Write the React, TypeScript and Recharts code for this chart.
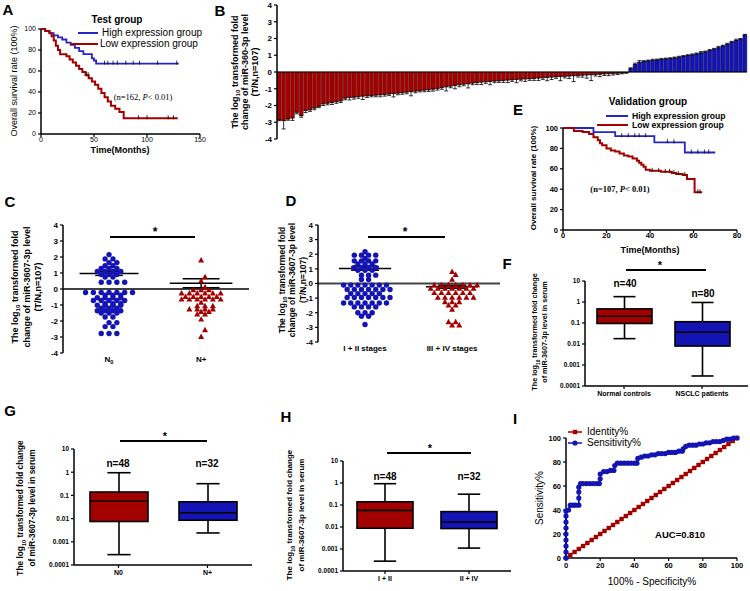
import React from 'react';
import {
  ComposedChart, LineChart, Line, BarChart, Bar, Cell, ErrorBar, ScatterChart, Scatter,
  XAxis, YAxis, ReferenceLine,
} from 'recharts';

const SANS = '"Liberation Sans", Arial, sans-serif';
const SERIF = '"Liberation Serif", "Times New Roman", serif';
const RED = '#a30000';
const BLUE = '#1414b4';
const KM_BLUE = '#2626c4';

// ---- A: test group survival (months / %)
const testHighTime = [0, 4, 8, 12, 16, 20, 24, 28, 32, 36, 40, 48, 50, 52, 130];
const testHighSurv = [100, 98, 96, 94, 92, 90, 87, 85, 82, 79, 76, 72, 70, 67, 67];
const testHighCensor = [60, 63, 68, 72, 80, 87, 93, 110, 128];
const testLowTime = [0, 4, 8, 10, 12, 14, 16, 18, 24, 27, 30, 33, 36, 39, 42, 45, 48, 51, 54, 57, 60, 63, 66, 70, 74, 78, 129];
const testLowSurv = [100, 98, 96, 93, 89, 84, 80, 76, 74, 71, 68, 65, 62, 59, 56, 53, 50, 47, 43, 39, 35, 31, 27, 24, 21, 15, 15];
const testLowCensor = [43, 44.5, 92, 100, 120, 125];

// ---- E: validation group survival
const valHighTime = [0, 14, 24, 42, 56, 70];
const valHighSurv = [100, 96, 92, 86, 76, 76];
const valHighCensor = [27, 30, 33, 35, 38, 48, 51, 59, 62, 65, 67];
const valLowTime = [0, 5, 9, 12, 14, 16, 17, 18, 20, 22, 24, 26, 28, 30, 32, 34, 35, 36, 37, 38, 40, 45, 50, 52, 55, 57, 60.5, 64];
const valLowSurv = [100, 97, 96, 94, 91, 88, 85, 83, 80, 78, 77, 75, 73, 72, 70, 68, 66, 64, 62, 59, 58, 57, 56, 55, 54, 50, 37, 37];
const valLowCensor = [41, 44, 47, 49, 51, 53, 56, 62, 63];

// ---- B: log10 fold change per patient (T/N), sorted
const waterfallLow = [
  -2.86, -2.9, -2.8, -2.74, -2.4, -2.6, -2.3, -2.25, -2.15, -2.05,
  -1.9, -1.86, -1.82, -1.77, -1.72, -1.56, -1.52, -1.5, -1.47, -1.44,
  -1.42, -1.4, -1.38, -1.36, -1.34, -1.31, -1.29, -1.26, -1.23, -1.2,
  -1.17, -1.14, -1.11, -1.08, -1.06, -1.02, -0.98, -0.93, -0.88, -0.84,
  -0.8, -0.76, -0.72, -0.7, -0.66, -0.63, -0.6, -0.58, -0.56, -0.54,
  -0.52, -0.5, -0.48, -0.46, -0.44, -0.43, -0.41, -0.4, -0.38, -0.36,
  -0.34, -0.32, -0.3, -0.28, -0.27, -0.25, -0.24, -0.22, -0.2, -0.19,
  -0.17, -0.16, -0.14, -0.13, -0.11, -0.1, -0.08, -0.07, -0.05, -0.03,
];
const waterfallHigh = [
  0.2, 0.45, 0.58, 0.62, 0.66, 0.7, 0.72, 0.75, 0.78, 0.8, 0.84, 0.88, 0.93, 0.98,
  1.02, 1.08, 1.14, 1.2, 1.28, 1.36, 1.45, 1.55, 1.65, 1.78, 1.88, 1.95, 2.2,
];
const waterfallErr = [
  0.05, 0.5, 0.08, 0.15, 0.1, 0.1, 0.12, 0.1, 0.1, 0.08,
  0.1, 0.1, 0.12, 0.1, 0.1, 0.1, 0.15, 0.12, 0.1, 0.2,
  0.1, 0.08, 0.1, 0.12, 0.1, 0.1, 0.2, 0.1, 0.1, 0.1,
  0.25, 0.1, 0.08, 0.1, 0.1, 0.12, 0.1, 0.1, 0.25, 0.1,
  0.2, 0.12, 0.1, 0.25, 0.1, 0.12, 0.15, 0.1, 0.2, 0.1,
  0.1, 0.12, 0.15, 0.1, 0.2, 0.1, 0.15, 0.1, 0.12, 0.15,
  0.1, 0.2, 0.15, 0.1, 0.25, 0.1, 0.15, 0.35, 0.1, 0.12,
  0.2, 0.35, 0.1, 0.15, 0.1, 0.12, 0.1, 0.08, 0.06, 0.05,
  0.05, 0.08, 0.1, 0.06, 0.05, 0.06, 0.05, 0.06, 0.05, 0.05,
  0.05, 0.06, 0.05, 0.05, 0.06, 0.05, 0.08, 0.05, 0.06, 0.05,
  0.08, 0.05, 0.06, 0.05, 0.08, 0.05, 0.05,
];

// ---- C: N0 vs N+ (each dot one patient)
const nodeNegValues = [
  2.15, 1.88, 1.88, 1.65, 1.65, 1.45, 1.45, 1.28, 1.28, 1.28, 1.1, 1.1, 1.1, 1.1,
  0.9, 0.9, 0.9, 0.75, 0.75, 0.42, 0.42, 0.42, 0.42,
  -0.22, -0.22, -0.22, -0.22, -0.22, -0.22, -0.22, -0.38, -0.38, -0.38,
  -0.55, -0.55, -0.55, -0.55, -0.72, -0.72, -0.72, -0.72, -0.72, -0.92, -0.92, -0.92,
  -1.02, -1.02, -1.02, -1.02, -1.2, -1.2, -1.2, -1.36, -1.36, -1.36, -1.36,
  -1.5, -1.5, -1.5, -1.75, -1.75, -2.1, -2.1, -2.35, -2.35, -2.78, -2.78, -2.78,
];
const nodePosValues = [
  1.8, 0.75, 0.5, 0.12, -0.06, -0.06, -0.06,
  -0.27, -0.27, -0.27, -0.27, -0.27, -0.27, -0.48, -0.48, -0.48, -0.48, -0.48,
  -0.65, -0.65, -0.65, -0.65, -0.65, -0.65, -0.85, -1.06, -1.06, -1.06,
  -1.27, -1.27, -1.27, -1.27, -1.42, -1.42, -1.58, -1.58, -1.9, -2.56, -2.98,
];
const nodeLabels = ['N0', 'N+'];
const nodeMeans = [0.97, 0.36];
const nodeSems = [0.12, 0.28];

// ---- D: stage I+II vs III+IV
const earlyValues = [
  2.17, 1.94, 1.94, 1.94, 1.94, 1.71, 1.55, 1.55, 1.55, 1.55, 1.33, 1.33, 1.33,
  1.1, 1.1, 1.1, 1.1, 0.9, 0.9, 0.9, 0.57, 0.57, 0.57, 0.27, 0.27,
  -0.11, -0.11, -0.11, -0.11, -0.11, -0.11, -0.11, -0.41, -0.41, -0.41, -0.41, -0.41, -0.41, -0.41,
  -0.69, -0.69, -0.69, -0.69, -0.69, -0.96, -0.96, -0.96, -0.96, -0.96, -0.96, -0.96,
  -1.33, -1.33, -1.33, -1.33, -1.33, -1.33, -1.33, -1.6, -1.6, -1.6, -1.6,
  -2.0, -2.0, -2.0, -2.24, -2.24, -2.8,
];
const lateValues = [
  0.8, 0.6, 0.27, -0.1, -0.1, -0.1, -0.1, -0.1, -0.1, -0.1,
  -0.34, -0.34, -0.34, -0.34, -0.34, -0.34, -0.34, -0.64, -0.64, -0.64, -0.64, -0.64, -0.64,
  -0.96, -0.96, -0.96, -0.96, -0.96, -0.96, -1.26, -1.26, -1.26, -1.49, -1.49, -1.78,
  -2.63, -2.63, -2.85, -2.85,
];
const stageLabels = ['I + II stages', 'III + IV stages'];
const stageMeans = [1.03, -0.22];
const stageSems = [0.12, 0.1];

// ---- F/G/H: serum levels (box: min, q1, median, q3, max)
const serumNames = ['Normal controls', 'NSCLC patients'];
const serumMin = [0.018, 0.0003];
const serumQ1 = [0.095, 0.008];
const serumMed = [0.21, 0.036];
const serumQ3 = [0.47, 0.115];
const serumMax = [1.8, 0.95];
const serumN = ['n=40', 'n=80'];

const nodeSerumNames = ['N0', 'N+'];
const nodeSerumMin = [0.00028, 0.0024];
const nodeSerumQ1 = [0.0075, 0.0085];
const nodeSerumMed = [0.057, 0.018];
const nodeSerumQ3 = [0.14, 0.053];
const nodeSerumMax = [0.95, 0.32];

const stageSerumNames = ['I + II', 'II + IV'];
const stageSerumMin = [0.00028, 0.0011];
const stageSerumQ1 = [0.0088, 0.0085];
const stageSerumMed = [0.057, 0.017];
const stageSerumQ3 = [0.14, 0.05];
const stageSerumMax = [0.93, 0.31];
const subgroupN = ['n=48', 'n=32'];

const logTicks = [0.0001, 0.001, 0.01, 0.1, 1, 10];

// ---- I: ROC
const rocFpr = [
  0, 0, 0, 0, 0, 0, 0, 0, 0,
  1.5, 2.5, 4, 5.5, 7.5, 7.5, 7.5, 7.5,
  8.5, 10, 12, 14, 16, 18, 19.5, 20, 20,
  22, 24, 26, 28, 28.5,
  30, 32, 34, 36, 38, 40, 41.5, 42,
  44, 46, 48, 50, 52, 54, 56, 58, 60, 62, 64, 66, 68, 68.5,
  70, 72, 74, 76, 78, 80, 82, 84, 86, 88, 90, 92, 94, 96, 98, 100,
];
const rocTpr = [
  0, 5, 10, 15, 20, 25, 30, 35, 39,
  40, 44, 44, 44, 44, 50, 55, 59,
  62, 62, 62, 62, 62, 62, 62, 66, 70,
  72, 72, 73, 73, 77,
  79, 79, 79, 79, 79, 79, 79, 83,
  84, 85, 85, 86, 86, 87, 87, 87, 88, 88, 88, 89, 89, 91,
  93, 94, 94, 94, 95, 95, 96, 96, 97, 97, 97, 98, 99, 99, 100, 100,
];
const identityPct = [
  0, 2.5, 5, 7.5, 10, 12.5, 15, 17.5, 20, 22.5, 25, 27.5, 30, 32.5, 35, 37.5, 40, 42.5, 45, 47.5,
  50, 52.5, 55, 57.5, 60, 62.5, 65, 67.5, 70, 72.5, 75, 77.5, 80, 82.5, 85, 87.5, 90, 92.5, 95, 97.5, 100,
];

// ---------- helpers
const Txt: React.FC<{
  x: number; y: number; size?: number; bold?: boolean; rot?: boolean; font?: string;
  start?: boolean; children: React.ReactNode;
}> = ({ x, y, size = 9, bold = true, rot = false, font = SANS, start = false, children }) => (
  <div
    style={{
      position: 'absolute', left: x, top: y,
      transform: `translate(${start ? '0' : '-50%'}, -50%)${rot ? ' rotate(-90deg)' : ''}`,
      fontSize: size, fontWeight: bold ? 700 : 400, fontFamily: font,
      whiteSpace: 'nowrap', lineHeight: 1, color: '#000',
    }}
  >
    {children}
  </div>
);

const Sub = ({ children }: { children: React.ReactNode }) => (
  <sub style={{ fontSize: '68%', lineHeight: 0 }}>{children}</sub>
);

const Seg = ({ x, y, w, color = '#000', h = 1.5 }: { x: number; y: number; w: number; color?: string; h?: number }) => (
  <div style={{ position: 'absolute', left: x, top: y - h / 2, width: w, height: h, background: color }} />
);

const axisLine = { stroke: '#000', strokeWidth: 1.5 };
const tickLine = { stroke: '#000', strokeWidth: 1.2 };
const tickStyle = (size: number, bold = true) => ({
  fill: '#000', fontSize: size, fontFamily: SANS, fontWeight: bold ? 700 : 400,
});

type KMGroup = { t: number[]; s: number[]; censor: number[]; color: string; w: number };

function kmPoints(g: KMGroup) {
  const pts = g.t.map((t, i) => ({ t, s: g.s[i], c: false }));
  g.censor.forEach((ct) => {
    let s = g.s[0];
    g.t.forEach((t, i) => { if (t <= ct) s = g.s[i]; });
    pts.push({ t: ct, s, c: true });
  });
  return pts.sort((a, b) => a.t - b.t);
}

const censorDot = (p: any) =>
  p.payload && p.payload.c ? (
    <line key={`c${p.index}`} x1={p.cx} x2={p.cx} y1={p.cy - 3} y2={p.cy + 1} stroke="#000" strokeWidth={0.8} />
  ) : (
    <g key={`n${p.index}`} />
  );

function KMChart(props: {
  left: number; top: number; width: number; height: number; margin: any; yWidth: number;
  xDomain: [number, number]; xTicks: number[]; groups: KMGroup[]; tickSize: number; bold: boolean;
}) {
  const { left, top, width, height, margin, yWidth, xDomain, xTicks, groups, tickSize, bold } = props;
  return (
    <div style={{ position: 'absolute', left, top }}>
      <ComposedChart width={width} height={height} margin={margin}>
        <XAxis type="number" dataKey="t" domain={xDomain} ticks={xTicks} height={14}
          axisLine={axisLine} tickLine={tickLine} tickSize={3} tickMargin={0} tick={tickStyle(tickSize, bold)} />
        <YAxis type="number" domain={[0, 100]} ticks={[0, 20, 40, 60, 80, 100]} width={yWidth}
          axisLine={axisLine} tickLine={tickLine} tickSize={3} tick={tickStyle(tickSize, bold)} />
        {groups.map((g, gi) => (
          <Line key={gi} data={kmPoints(g)} dataKey="s" type="stepAfter" stroke={g.color}
            strokeWidth={g.w} dot={censorDot} activeDot={false} isAnimationActive={false} />
        ))}
      </ComposedChart>
    </div>
  );
}

// lay the dots of each value row side by side; rows interleave by half a step
function swarm(values: number[], center: number, step: number) {
  const rows = new Map<number, number>();
  values.forEach((v) => rows.set(v, (rows.get(v) || 0) + 1));
  const keys = [...rows.keys()].sort((a, b) => b - a);
  const out: { x: number; y: number }[] = [];
  let prevParity = -1;
  let prevShift = 0;
  keys.forEach((v) => {
    const n = rows.get(v) as number;
    const parity = n % 2;
    const shift = parity === prevParity && prevShift === 0 ? step / 2 : 0;
    for (let k = 0; k < n; k++) out.push({ x: center + (k - (n - 1) / 2) * step + shift, y: v });
    prevParity = parity;
    prevShift = shift;
  });
  return out;
}

const circleShape = (color: string) => (p: any) => <circle cx={p.cx} cy={p.cy} r={2.7} fill={color} />;
const triShape = (color: string) => (p: any) => (
  <polygon points={`${p.cx},${p.cy - 3.2} ${p.cx + 3},${p.cy + 2.2} ${p.cx - 3},${p.cy + 2.2}`} fill={color} />
);

const catTick = (labels: string[], sub: boolean, size: number) => (p: any) => {
  const lab = labels[Math.round(p.payload.value) - 1] ?? '';
  const m = sub ? /^(N)(\d)$/.exec(lab) : null;
  return (
    <text x={p.x} y={p.y} dy="0.71em" textAnchor="middle" fontSize={size} fontWeight="bold" fontFamily={SANS} fill="#000">
      {m ? (<>{m[1]}<tspan fontSize={size * 0.7} dy={2}>{m[2]}</tspan></>) : lab}
    </text>
  );
};

function DotPlot(props: {
  left: number; top: number; width: number; height: number; yWidth: number; xDomain: [number, number];
  labels: string[]; sub: boolean; a: number[]; b: number[]; step: number;
  means: number[]; sems: number[]; meanHalf: number[]; capHalf: number[]; zero: string; zeroW: number;
}) {
  const p = props;
  const pa = swarm(p.a, 1, p.step);
  const pb = swarm(p.b, 2, p.step);
  const stat = (i: number) => {
    const cx = i + 1, m = p.means[i], s = p.sems[i];
    const line = { stroke: '#000', strokeWidth: 1.5, ifOverflow: 'visible' as const };
    return [
      <ReferenceLine key={`m${i}`} segment={[{ x: cx - p.meanHalf[i], y: m }, { x: cx + p.meanHalf[i], y: m }]} {...line} />,
      <ReferenceLine key={`v${i}`} segment={[{ x: cx, y: m - s }, { x: cx, y: m + s }]} {...line} />,
      <ReferenceLine key={`t${i}`} segment={[{ x: cx - p.capHalf[i], y: m + s }, { x: cx + p.capHalf[i], y: m + s }]} {...line} />,
      <ReferenceLine key={`b${i}`} segment={[{ x: cx - p.capHalf[i], y: m - s }, { x: cx + p.capHalf[i], y: m - s }]} {...line} />,
    ];
  };
  return (
    <div style={{ position: 'absolute', left: p.left, top: p.top }}>
      <ScatterChart width={p.width} height={p.height} margin={{ top: 10, right: 0, bottom: 3, left: 0 }}>
        <XAxis type="number" dataKey="x" domain={p.xDomain} ticks={[1, 2]} height={12}
          axisLine={false} tickLine={false} tickSize={1} tick={catTick(p.labels, p.sub, 8)} />
        <YAxis type="number" dataKey="y" domain={[-4, 4]} ticks={[-4, -3, -2, -1, 0, 1, 2, 3, 4]} width={p.yWidth}
          axisLine={axisLine} tickLine={tickLine} tickSize={3} tick={tickStyle(8)} />
        <ReferenceLine y={0} stroke={p.zero} strokeWidth={p.zeroW} />
        <Scatter data={pa} shape={circleShape(BLUE)} isAnimationActive={false} />
        <Scatter data={pb} shape={triShape(RED)} isAnimationActive={false} />
        {stat(0)}
        {stat(1)}
      </ScatterChart>
    </div>
  );
}

const makeBoxShape = (colors: string[]) => (props: any) => {
  const { x, y, width, height, payload, index } = props;
  const top = Math.min(y, y + height);
  const bot = Math.max(y, y + height);
  const lMax = Math.log10(payload.max);
  const lMin = Math.log10(payload.min);
  const py = (v: number) => top + ((lMax - Math.log10(v)) / (lMax - lMin)) * (bot - top);
  const cx = x + width / 2;
  const cap = width * 0.2;
  const st = { stroke: '#000', strokeWidth: 1.6 };
  return (
    <g>
      <line x1={cx} x2={cx} y1={top} y2={bot} {...st} />
      <line x1={cx - cap} x2={cx + cap} y1={top} y2={top} {...st} />
      <line x1={cx - cap} x2={cx + cap} y1={bot} y2={bot} {...st} />
      <rect x={x} y={py(payload.q3)} width={width} height={py(payload.q1) - py(payload.q3)} fill={colors[index]} {...st} />
      <line x1={x} x2={x + width} y1={py(payload.med)} y2={py(payload.med)} {...st} />
    </g>
  );
};

function BoxPlot(props: {
  left: number; top: number; width: number; height: number; names: string[];
  mins: number[]; q1s: number[]; meds: number[]; q3s: number[]; maxs: number[];
  padRight: number; barSize: number;
}) {
  const p = props;
  const data = p.names.map((name, i) => ({ name, min: p.mins[i], q1: p.q1s[i], med: p.meds[i], q3: p.q3s[i], max: p.maxs[i] }));
  return (
    <div style={{ position: 'absolute', left: p.left, top: p.top }}>
      <BarChart width={p.width} height={p.height} data={data} margin={{ top: 10, right: 2, bottom: 2, left: 0 }}>
        <XAxis dataKey="name" height={16} padding={{ left: 0, right: p.padRight }}
          axisLine={axisLine} tickLine={tickLine} tickSize={3} tick={tickStyle(7)} interval={0} />
        <YAxis scale="log" domain={[0.0001, 10]} ticks={logTicks} allowDataOverflow width={40}
          tickFormatter={(v: number) => String(v)}
          axisLine={axisLine} tickLine={tickLine} tickSize={3} tick={tickStyle(6.5)} />
        <Bar dataKey={(d: any) => [d.min, d.max]} barSize={p.barSize} shape={makeBoxShape([RED, BLUE])}
          isAnimationActive={false} />
      </BarChart>
    </div>
  );
}

const waterfallData = [...waterfallLow, ...waterfallHigh].map((v, i) => ({
  i,
  v,
  err: v < 0 ? [waterfallErr[i], 0] : [0, waterfallErr[i]],
}));

const rocData = rocFpr.map((x, i) => ({ x, y: rocTpr[i] }));
const identityData = identityPct.map((x) => ({ x, y: x }));

export default function App() {
  return (
    <div style={{ position: 'absolute', left: 0, top: 0, width: 750, height: 591, background: '#fff', overflow: 'hidden', fontFamily: SANS }}>
      {/* ---------------- A */}
      <Txt x={8} y={9} size={15}>A</Txt>
      <KMChart left={0} top={0} width={210} height={160} margin={{ top: 29, right: 10, bottom: 12, left: 0 }} yWidth={41}
        xDomain={[0, 150]} xTicks={[0, 50, 100, 150]} tickSize={7} bold={false}
        groups={[
          { t: testHighTime, s: testHighSurv, censor: testHighCensor, color: KM_BLUE, w: 1.8 },
          { t: testLowTime, s: testLowSurv, censor: testLowCensor, color: RED, w: 2 },
        ]} />
      <Txt x={117} y={20} size={10}>Test group</Txt>
      <Seg x={78} y={33} w={20} color={KM_BLUE} h={2} />
      <Txt x={102} y={33} size={10} bold={false} start>High expression group</Txt>
      <Seg x={70} y={44} w={28} color={RED} h={2} />
      <Txt x={100} y={44} size={10} bold={false} start>Low expression group</Txt>
      <Txt x={143} y={97} size={8.5} bold={false} font={SERIF}>(n=162, <i>P</i>&lt; 0.01)</Txt>
      <Txt x={14} y={81} size={9} bold={false} rot>Overall survival rate (100%)</Txt>
      <Txt x={120} y={150} size={9}>Time(Months)</Txt>

      {/* ---------------- B */}
      <Txt x={220} y={10} size={15}>B</Txt>
      <div style={{ position: 'absolute', left: 237, top: 0 }}>
        <BarChart width={513} height={150} data={waterfallData} margin={{ top: 5, right: 3, bottom: 11, left: 0 }}
          barCategoryGap="6%">
          <XAxis dataKey="i" hide />
          <YAxis type="number" domain={[-4, 4]} ticks={[-4, -3, -2, -1, 0, 1, 2, 3, 4]} width={40}
            axisLine={axisLine} tickLine={tickLine} tickSize={3} tick={tickStyle(8)} />
          <Bar dataKey="v" isAnimationActive={false}>
            {waterfallData.map((d) => (
              <Cell key={d.i} fill={d.v < 0 ? RED : BLUE} stroke={d.v < 0 ? '#4a0000' : '#00004a'} strokeWidth={0.4} />
            ))}
            <ErrorBar dataKey="err" width={2} stroke="#000" strokeWidth={0.8} />
          </Bar>
          <ReferenceLine y={0} stroke="#000" strokeWidth={1.2} />
        </BarChart>
      </div>
      <Txt x={235} y={72} size={9} rot>The log<Sub>10</Sub> transformed fold</Txt>
      <Txt x={245} y={72} size={9} rot>change of miR-360-3p level</Txt>
      <Txt x={255} y={72} size={9} rot>(T/N,n=107)</Txt>

      {/* ---------------- C */}
      <Txt x={10} y={201} size={15}>C</Txt>
      <DotPlot left={23} top={215} width={226} height={153} yWidth={40} xDomain={[0.5, 2.52]}
        labels={nodeLabels} sub a={nodeNegValues} b={nodePosValues} step={0.085}
        means={nodeMeans} sems={nodeSems} meanHalf={[0.32, 0.34]} capHalf={[0.15, 0.2]} zero="#000" zeroW={1.5} />
      <Seg x={110} y={237} w={85} />
      <Txt x={155} y={232} size={12}>*</Txt>
      <Txt x={15} y={287} size={9} rot>The log<Sub>10</Sub> transformed fold</Txt>
      <Txt x={27} y={287} size={9} rot>change of miR-3607-3p level</Txt>
      <Txt x={38} y={287} size={9} rot>(T/N,n=107)</Txt>

      {/* ---------------- D */}
      <Txt x={291} y={200} size={15}>D</Txt>
      <DotPlot left={278} top={215} width={222} height={142} yWidth={40} xDomain={[0.46, 2.55]}
        labels={stageLabels} sub={false} a={earlyValues} b={lateValues} step={0.082}
        means={stageMeans} sems={stageSems} meanHalf={[0.3, 0.3]} capHalf={[0.16, 0.16]} zero="#444" zeroW={2} />
      <Seg x={368} y={237} w={77} />
      <Txt x={405} y={232} size={12}>*</Txt>
      <Txt x={282} y={280} size={8.5} rot>The log<Sub>10</Sub> transformed fold</Txt>
      <Txt x={292} y={280} size={8.5} rot>change of miR-3607-3p level</Txt>
      <Txt x={303} y={280} size={8.5} rot>(T/N,n=107)</Txt>

      {/* ---------------- E */}
      <Txt x={518} y={109} size={15}>E</Txt>
      <KMChart left={523} top={118} width={227} height={128} margin={{ top: 10, right: 13, bottom: 2, left: 0 }} yWidth={40}
        xDomain={[0, 80]} xTicks={[0, 20, 40, 60, 80]} tickSize={7.5} bold
        groups={[
          { t: valHighTime, s: valHighSurv, censor: valHighCensor, color: KM_BLUE, w: 1.8 },
          { t: valLowTime, s: valLowSurv, censor: valLowCensor, color: RED, w: 2 },
        ]} />
      <Txt x={648} y={102} size={10}>Validation group</Txt>
      <Seg x={606} y={115.5} w={22} color={KM_BLUE} h={2} />
      <Txt x={632} y={115.5} size={8.6} start>High expression group</Txt>
      <Seg x={597} y={124.5} w={31} color={RED} h={2} />
      <Txt x={632} y={124.5} size={8.6} start>Low expression group</Txt>
      <Txt x={620} y={189} size={8.5} font={SERIF}>(n=107, <i>P</i>&lt; 0.01)</Txt>
      <Txt x={534} y={178} size={8} rot>Overall survival rate (100%)</Txt>
      <Txt x={650} y={250} size={9}>Time(Months)</Txt>

      {/* ---------------- F */}
      <Txt x={507} y={263} size={15}>F</Txt>
      <BoxPlot left={545} top={271} width={205} height={133} names={serumNames}
        mins={serumMin} q1s={serumQ1} meds={serumMed} q3s={serumQ3} maxs={serumMax} padRight={7} barSize={55} />
      <Seg x={626} y={270} w={80} />
      <Txt x={660} y={265} size={11}>*</Txt>
      <Txt x={625} y={284} size={10}>{serumN[0]}</Txt>
      <Txt x={703} y={294} size={10}>{serumN[1]}</Txt>
      <Txt x={535} y={332} size={7.2} rot>The log<Sub>10</Sub> transformed fold change</Txt>
      <Txt x={545} y={332} size={7.2} rot>of miR-3607-3p level in serum</Txt>

      {/* ---------------- G */}
      <Txt x={10} y={410} size={15}>G</Txt>
      <BoxPlot left={34} top={439} width={220} height={144} names={nodeSerumNames}
        mins={nodeSerumMin} q1s={nodeSerumQ1} meds={nodeSerumMed} q3s={nodeSerumQ3} maxs={nodeSerumMax} padRight={0} barSize={58} />
      <Seg x={120} y={441} w={87} />
      <Txt x={165} y={436} size={11}>*</Txt>
      <Txt x={118} y={464} size={10}>{subgroupN[0]}</Txt>
      <Txt x={207} y={464} size={10}>{subgroupN[1]}</Txt>
      <Txt x={20} y={508} size={8.3} rot>The log<Sub>10</Sub> transformed fold change</Txt>
      <Txt x={32} y={508} size={8.3} rot>of miR-3607-3p level in serum</Txt>

      {/* ---------------- H */}
      <Txt x={286} y={416} size={15}>H</Txt>
      <BoxPlot left={303} top={451} width={210} height={138} names={stageSerumNames}
        mins={stageSerumMin} q1s={stageSerumQ1} meds={stageSerumMed} q3s={stageSerumQ3} maxs={stageSerumMax} padRight={0} barSize={56} />
      <Seg x={387} y={453} w={84} />
      <Txt x={430} y={448} size={11}>*</Txt>
      <Txt x={385} y={477} size={10}>{subgroupN[0]}</Txt>
      <Txt x={469} y={477} size={10}>{subgroupN[1]}</Txt>
      <Txt x={290} y={515} size={8} rot>The log<Sub>10</Sub> transformed fold change</Txt>
      <Txt x={302} y={515} size={8} rot>of miR-3607-3p level in serum</Txt>

      {/* ---------------- I */}
      <Txt x={515} y={418} size={15}>I</Txt>
      <div style={{ position: 'absolute', left: 526, top: 428 }}>
        <LineChart width={224} height={146} margin={{ top: 10, right: 13, bottom: 2, left: 0 }}>
          <XAxis type="number" dataKey="x" domain={[0, 100]} ticks={[0, 20, 40, 60, 80, 100]} height={14}
            axisLine={axisLine} tickLine={tickLine} tickSize={3} tick={tickStyle(7.5)} />
          <YAxis type="number" domain={[0, 100]} ticks={[0, 20, 40, 60, 80, 100]} width={40}
            axisLine={axisLine} tickLine={tickLine} tickSize={3} tick={tickStyle(7.5)} />
          <Line data={identityData} dataKey="y" stroke={RED} strokeWidth={1.2} isAnimationActive={false} activeDot={false}
            dot={(p: any) => <rect key={p.index} x={p.cx - 2.2} y={p.cy - 2.2} width={4.4} height={4.4} fill={RED} />} />
          <Line data={rocData} dataKey="y" stroke={BLUE} strokeWidth={1.8} isAnimationActive={false} activeDot={false}
            dot={(p: any) => <circle key={p.index} cx={p.cx} cy={p.cy} r={2.6} fill={BLUE} />} />
        </LineChart>
      </div>
      <svg style={{ position: 'absolute', left: 566, top: 426 }} width={20} height={22}>
        <line x1={2} x2={16} y1={6} y2={6} stroke={RED} strokeWidth={1.5} />
        <rect x={6.8} y={3.8} width={4.4} height={4.4} fill={RED} />
        <line x1={2} x2={16} y1={17} y2={17} stroke={BLUE} strokeWidth={1.5} />
        <circle cx={9} cy={17} r={2.6} fill={BLUE} />
      </svg>
      <Txt x={587} y={432} size={10} bold={false} start>Identity%</Txt>
      <Txt x={587} y={443} size={10} bold={false} start>Sensitivity%</Txt>
      <Txt x={680} y={535} size={9.5}>AUC=0.810</Txt>
      <Txt x={540} y={498} size={10} bold={false} rot>Sensitivity%</Txt>
      <Txt x={652} y={582} size={10} bold={false}>100% - Specificity%</Txt>
    </div>
  );
}
